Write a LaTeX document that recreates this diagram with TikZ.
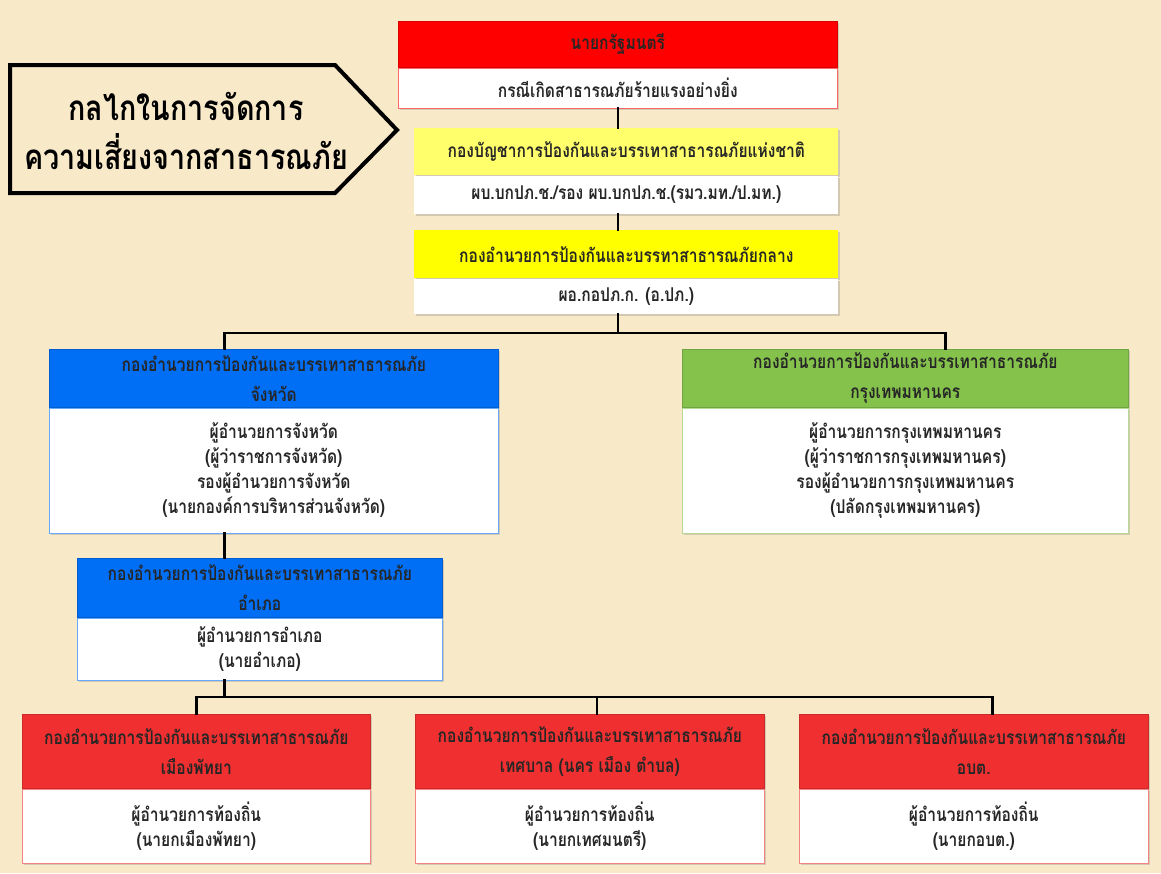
\documentclass[tikz,border=0pt]{standalone}
\usepackage{fontspec}
\newfontfamily\thaifont[Script=Thai,FakeStretch=0.82]{Loma}
\usetikzlibrary{calc,shadows}
\definecolor{paper}{HTML}{F8E9C9}
\definecolor{pmRed}{HTML}{FF0000}
\definecolor{natYellow}{HTML}{FFFF6B}
\definecolor{ctrYellow}{HTML}{FFFF00}
\definecolor{provBlue}{HTML}{006EF5}
\definecolor{bkkGreen}{HTML}{84C24C}
\definecolor{locRed}{HTML}{F03030}
\begin{document}
\begin{tikzpicture}[x=1pt, y=-1pt,
  box/.style={anchor=north west, inner sep=0pt, align=center, text=black!85, semithick,
    font=\thaifont\bfseries\fontsize{19}{25}\selectfont,
    drop shadow={opacity=.3, shadow xshift=1.5pt, shadow yshift=-2pt}},
  head/.style={box, fill=#1, draw=#1!85!black, font=\thaifont\bfseries\fontsize{19}{30}\selectfont},
  body/.style={box, fill=white, draw=#1!60},
  link/.style={line width=2.5pt, line cap=rect}]
\useasboundingbox (0,0) rectangle (1161,873);
\fill[paper] (0,0) rectangle (1161,873);
% title arrow
\draw[line width=4pt, line join=miter] (10,65) -- (335,65) -- (397,130) -- (335,193) -- (10,193) -- cycle;
\node[font=\thaifont\bfseries\fontsize{35}{49}\selectfont, align=center] (title) at (186,131) {กลไกในการจัดการ\\ความเสี่ยงจากสาธารณภัย};
% top chain
\node[head=pmRed, minimum width=439, minimum height=46] (pmHead) at (398,21) {นายกรัฐมนตรี};
\node[body=pmRed, minimum width=439, minimum height=40] (pmBody) at (pmHead.south west) {กรณีเกิดสาธารณภัยร้ายแรงอย่างยิ่ง};
\node[head=natYellow, draw=none, minimum width=424, minimum height=47] (natHead) at (414,128) {กองบัญชาการป้องกันและบรรเทาสาธารณภัยแห่งชาติ};
\node[body=natYellow, draw=none, minimum width=424, minimum height=38] (natBody) at (natHead.south west) {ผบ.บกปภ.ช./รอง ผบ.บกปภ.ช.(รมว.มท./ป.มท.)};
\node[head=ctrYellow, draw=none, minimum width=424, minimum height=48] (ctrHead) at (414,230) {กองอำนวยการป้องกันและบรรทาสาธารณภัยกลาง};
\node[body=ctrYellow, draw=none, minimum width=424, minimum height=35] (ctrBody) at (ctrHead.south west) {ผอ.กอปภ.ก. (อ.ปภ.)};
% province, bangkok, district
\node[head=provBlue, minimum width=449, minimum height=58] (provHead) at (49,349) {กองอำนวยการป้องกันและบรรเทาสาธารณภัย\\จังหวัด};
\node[body=provBlue, minimum width=449, minimum height=125] (provBody) at (provHead.south west) {ผู้อำนวยการจังหวัด\\(ผู้ว่าราชการจังหวัด)\\รองผู้อำนวยการจังหวัด\\(นายกองค์การบริหารส่วนจังหวัด)};
\node[head=bkkGreen, minimum width=446, minimum height=58] (bkkHead) at (682,349) {กองอำนวยการป้องกันและบรรเทาสาธารณภัย\\กรุงเทพมหานคร};
\node[body=bkkGreen, minimum width=446, minimum height=125] (bkkBody) at (bkkHead.south west) {ผู้อำนวยการกรุงเทพมหานคร\\(ผู้ว่าราชการกรุงเทพมหานคร)\\รองผู้อำนวยการกรุงเทพมหานคร\\(ปลัดกรุงเทพมหานคร)};
\node[head=provBlue, minimum width=365, minimum height=59] (distHead) at (77,558) {กองอำนวยการป้องกันและบรรเทาสาธารณภัย\\อำเภอ};
\node[body=provBlue, minimum width=365, minimum height=62] (distBody) at (distHead.south west) {ผู้อำนวยการอำเภอ\\(นายอำเภอ)};
% local level
\node[head=locRed, minimum width=348, minimum height=74] (pattHead) at (22,714) {กองอำนวยการป้องกันและบรรเทาสาธารณภัย\\เมืองพัทยา};
\node[body=locRed, minimum width=348, minimum height=74] (pattBody) at (pattHead.south west) {ผู้อำนวยการท้องถิ่น\\(นายกเมืองพัทยา)};
\node[head=locRed, minimum width=349, minimum height=74] (munHead) at (415,714) {กองอำนวยการป้องกันและบรรเทาสาธารณภัย\\เทศบาล (นคร เมือง ตำบล)};
\node[body=locRed, minimum width=349, minimum height=74] (munBody) at (munHead.south west) {ผู้อำนวยการท้องถิ่น\\(นายกเทศมนตรี)};
\node[head=locRed, minimum width=349, minimum height=74] (taoHead) at (799,714) {กองอำนวยการป้องกันและบรรเทาสาธารณภัย\\อบต.};
\node[body=locRed, minimum width=349, minimum height=74] (taoBody) at (taoHead.south west) {ผู้อำนวยการท้องถิ่น\\(นายกอบต.)};
% connectors
\coordinate (provIn) at ($(provHead.north west)!.39!(provHead.north east)$);
\coordinate (bkkIn) at ($(bkkHead.north west)!.59!(bkkHead.north east)$);
\coordinate (munIn) at ($(munHead.north west)!.52!(munHead.north east)$);
\coordinate (taoIn) at ($(taoHead.north west)!.553!(taoHead.north east)$);
\draw[link] (pmBody.south) -- (pmBody.south |- natHead.north);
\draw[link] (pmBody.south |- natBody.south) -- (pmBody.south |- ctrHead.north);
\draw[link] (pmBody.south |- ctrBody.south) -- ++(0,19) coordinate (fork);
\draw[link] (provIn) |- (fork) -| (bkkIn);
\draw[link] (provIn |- provBody.south) -- (provIn |- distHead.north);
\draw[link] (provIn |- distBody.south) -- ++(0,17) coordinate (fork2);
\draw[link] (pattHead.north) |- (fork2) -| (taoIn);
\draw[link] (munIn) -- (munIn |- fork2);
\end{tikzpicture}
\end{document}
